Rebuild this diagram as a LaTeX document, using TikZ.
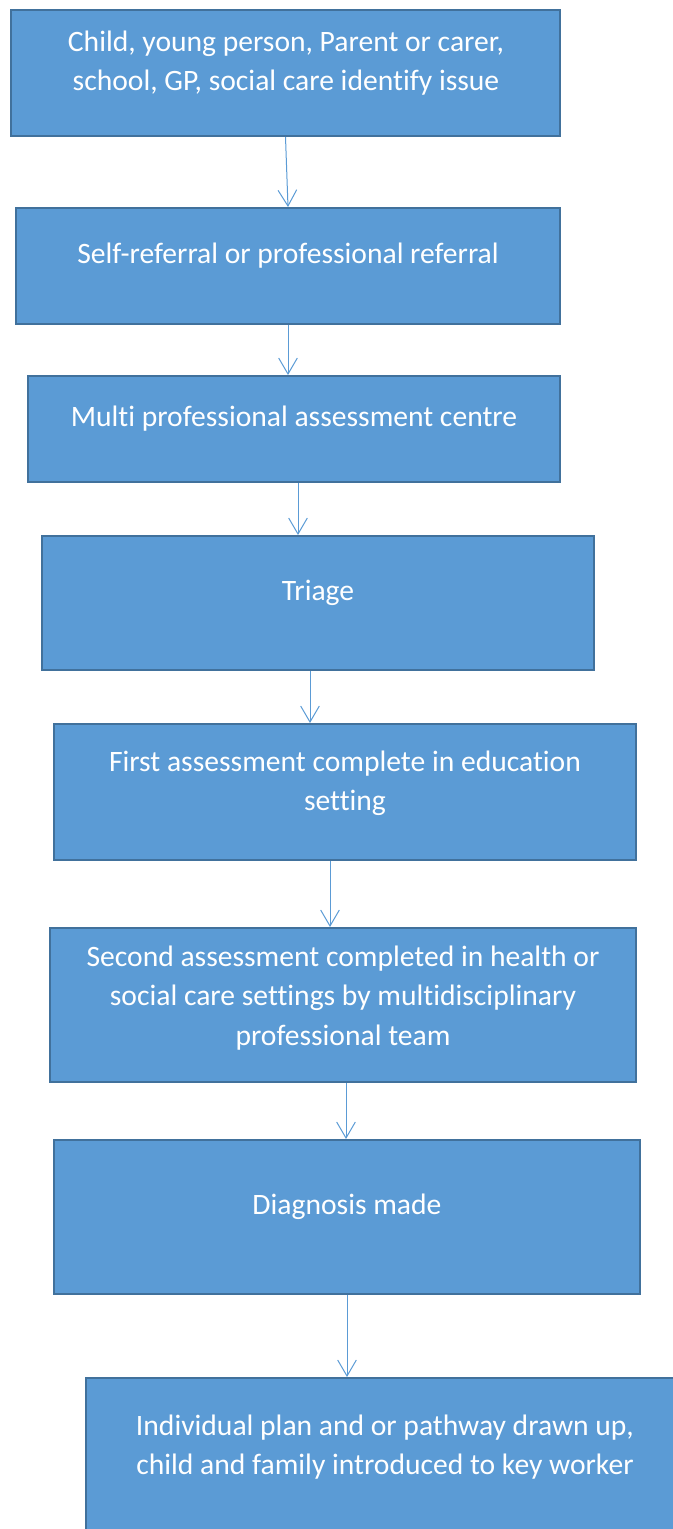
\documentclass[tikz,border=0pt]{standalone}
\usepackage{fontspec}
\setmainfont{Carlito}[Ligatures=NoCommon]
\usetikzlibrary{arrows.meta,fit}
\definecolor{boxfill}{HTML}{5B9BD5}
\definecolor{boxline}{HTML}{41719C}

\begin{document}
\begin{tikzpicture}
[
    x=0.75pt, y=-0.75pt,
    stage/.style={rectangle, draw=boxline, fill=boxfill, line width=1.5pt, inner sep=0pt},
    stagetext/.style={text=white, align=center, inner sep=0pt, font=\fontsize{22.2}{29.5}\selectfont},
    flow/.style={-{Straight Barb[length=12pt,width=14pt]}, draw=boxfill, line width=0.75pt},
]
    \useasboundingbox (0,0) rectangle (673,1529);

    \node[stage, fit={(11,10) (560,136)}] (S1) {};
    \node[stage, fit={(16,208) (560,324)}] (S2) {};
    \node[stage, fit={(28,376) (560,482)}] (S3) {};
    \node[stage, fit={(42,536) (594,670)}] (S4) {};
    \node[stage, fit={(54,724) (636,860)}] (S5) {};
    \node[stage, fit={(50,928) (636,1082)}] (S6) {};
    \node[stage, fit={(54,1140) (640,1294)}] (S7) {};
    \node[stage, fit={(86,1378) (700,1570)}] (S8) {};

    \node[stagetext] (T1) at (286,63) {Child, young person, Parent or carer,\\school, GP, social care identify issue};
    \node[stagetext] (T2) at (288,256) {Self-referral or professional referral};
    \node[stagetext] (T3) at (294,419) {Multi professional assessment centre};
    \node[stagetext] (T4) at (318,593) {Triage};
    \node[stagetext] (T5) at (345,783) {First assessment complete in education\\setting};
    \node[stagetext] (T6) at (343,998) {Second assessment completed in health or\\social care settings by multidisciplinary\\professional team};
    \node[stagetext] (T7) at (347,1207) {Diagnosis made};
    \node[stagetext] (T8) at (385,1447) {Individual plan and or pathway drawn up,\\child and family introduced to key worker};

    \draw[flow] (S1.south) -- (S2.north);
    \draw[flow] (S2.south) -- (S2.south |- S3.north);
    \draw[flow] ([xshift=3pt]S3.south) -- ([xshift=3pt]S3.south |- S4.north);
    \draw[flow] ([xshift=-6pt]S4.south) -- ([xshift=-6pt]S4.south |- S5.north);
    \draw[flow] ([xshift=-11.25pt]S5.south) -- ([xshift=-11.25pt]S5.south |- S6.north);
    \draw[flow] ([xshift=2.25pt]S6.south) -- ([xshift=2.25pt]S6.south |- S7.north);
    \draw[flow] (S7.south) -- (S7.south |- S8.north);
\end{tikzpicture}
\end{document}
